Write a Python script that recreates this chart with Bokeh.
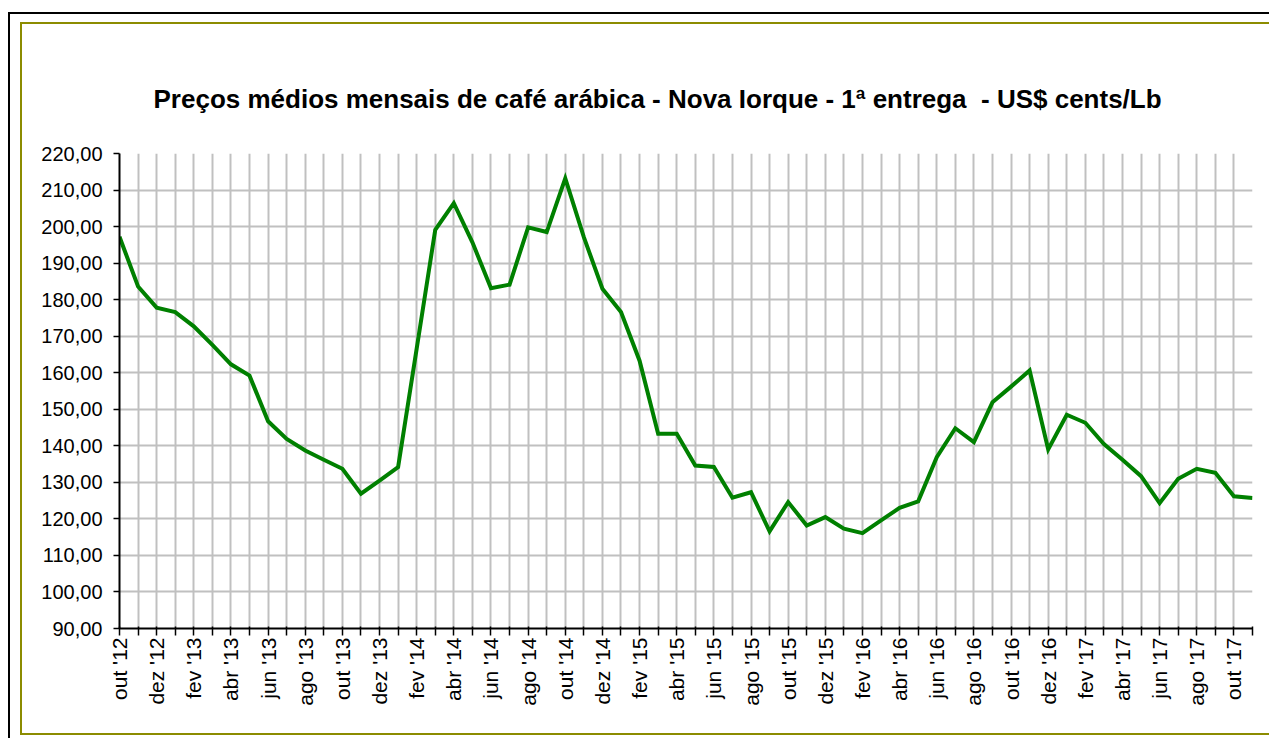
import math
from bokeh.plotting import figure
from bokeh.models import Range1d, FixedTicker, InlineStyleSheet
from bokeh.embed import file_html
from bokeh.resources import INLINE

months = ["out '12", "nov '12", "dez '12", "jan '13", "fev '13", "mar '13", "abr '13", "mai '13",
          "jun '13", "jul '13", "ago '13", "set '13", "out '13", "nov '13", "dez '13",
          "jan '14", "fev '14", "mar '14", "abr '14", "mai '14", "jun '14", "jul '14", "ago '14",
          "set '14", "out '14", "nov '14", "dez '14",
          "jan '15", "fev '15", "mar '15", "abr '15", "mai '15", "jun '15", "jul '15", "ago '15",
          "set '15", "out '15", "nov '15", "dez '15",
          "jan '16", "fev '16", "mar '16", "abr '16", "mai '16", "jun '16", "jul '16", "ago '16",
          "set '16", "out '16", "nov '16", "dez '16",
          "jan '17", "fev '17", "mar '17", "abr '17", "mai '17", "jun '17", "jul '17", "ago '17",
          "set '17", "out '17", "nov '17"]

prices = [197.2, 183.6, 177.8, 176.6, 172.7, 167.6, 162.3, 159.2,
          146.7, 141.9, 138.7, 136.2, 133.7, 126.9, 130.5,
          134.2, 166.6, 199.1, 206.4, 195.7, 183.1, 184.1, 199.8,
          198.5, 213.2, 197.1, 183.0,
          176.6, 163.3, 143.3, 143.3, 134.6, 134.2, 125.8, 127.3,
          116.6, 124.6, 118.2, 120.5,
          117.3, 116.1, 119.6, 123.0, 124.8, 136.9, 144.8, 141.0,
          151.9, 156.2, 160.6, 139.0,
          148.5, 146.3, 140.5, 136.2, 131.7, 124.3, 131.0, 133.7,
          132.6, 126.2, 125.7]

y_ticks = list(range(90, 230, 10))
title_text = "Preços médios mensais de café arábica - Nova Iorque - 1ª entrega \u00a0- US$ cents/Lb"

FONT = "Liberation Sans"

x = list(range(len(months)))

css = """
:host { position: relative; }
:host::before {
  content: ""; position: absolute; left: 8px; top: 12px; right: 0px; bottom: 0px;
  border-left: 2px solid #000000; border-top: 2px solid #000000;
  pointer-events: none; z-index: 10;
}
:host::after {
  content: ""; position: absolute; left: 20px; top: 22px; right: 0px; bottom: 3px;
  border-left: 2px solid #8c8c00; border-top: 2px solid #8c8c00; border-bottom: 2px solid #8c8c00;
  pointer-events: none; z-index: 10;
}
"""

p = figure(width=1269, height=738, output_backend="svg", toolbar_location=None,
           x_range=Range1d(0, len(months) - 1), y_range=Range1d(90, 220),
           min_border_left=119, min_border_right=17, min_border_top=153, min_border_bottom=110)
p.stylesheets = [InlineStyleSheet(css=css)]
p.outline_line_color = None
p.background_fill_color = "white"
p.border_fill_color = "white"

p.line(x, prices, line_color="#008000", line_width=4, line_join="miter")

# title
p.title.text = title_text
p.title.align = "left"
p.title.offset = 34
p.title.standoff = 80
p.title.text_font = FONT
p.title.text_font_style = "bold"
p.title.text_font_size = "26px"
p.title.text_color = "black"

# y axis
p.yaxis.ticker = FixedTicker(ticks=y_ticks)
p.yaxis.major_label_overrides = {v: f"{v},00" for v in y_ticks}
p.yaxis.major_label_text_font = FONT
p.yaxis.major_label_text_font_size = "20px"
p.yaxis.major_label_text_color = "black"
p.yaxis.axis_line_color = "black"
p.yaxis.axis_line_width = 2
p.yaxis.major_tick_line_color = "black"
p.yaxis.major_tick_line_width = 1.5
p.yaxis.major_tick_out = 6
p.yaxis.major_tick_in = 0
p.yaxis.minor_tick_line_color = None
p.yaxis.major_label_standoff = 11

# x axis
p.xaxis.ticker = FixedTicker(ticks=x)
p.xaxis.major_label_overrides = {i: (m if i % 2 == 0 else "") for i, m in enumerate(months)}
p.xaxis.major_label_orientation = math.pi / 2
p.xaxis.major_label_text_font = FONT
p.xaxis.major_label_text_font_size = "21px"
p.xaxis.major_label_text_color = "black"
p.xaxis.axis_line_color = "black"
p.xaxis.axis_line_width = 2
p.xaxis.major_tick_line_color = "black"
p.xaxis.major_tick_line_width = 1.5
p.xaxis.major_tick_out = 7
p.xaxis.major_tick_in = 2
p.xaxis.minor_tick_line_color = None
p.xaxis.major_label_standoff = 2

p.xgrid.grid_line_color = "#c0c0c0"
p.xgrid.grid_line_width = 2
p.ygrid.grid_line_color = "#c0c0c0"
p.ygrid.grid_line_width = 2

open("out.html", "w").write(file_html(p, INLINE))
